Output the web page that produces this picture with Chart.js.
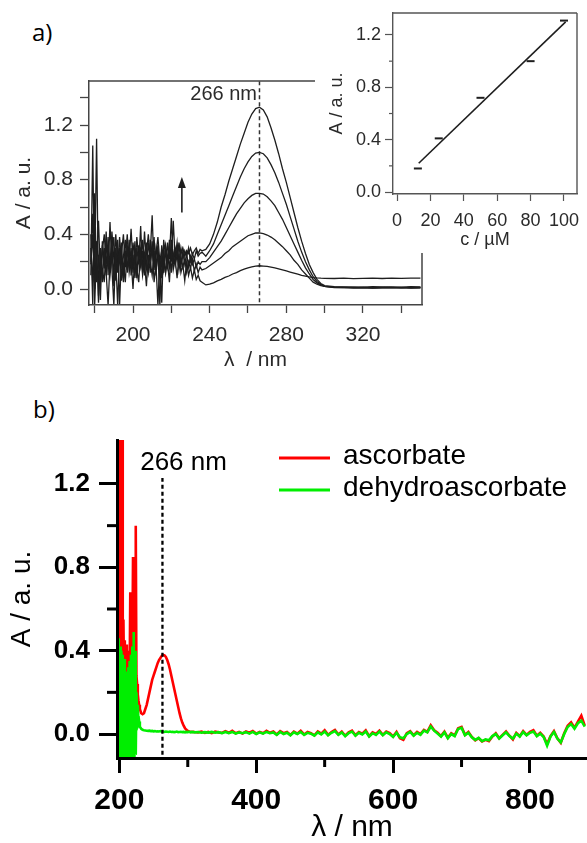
<!DOCTYPE html>
<html><head><meta charset="utf-8">
<script src="https://cdn.jsdelivr.net/npm/chart.js@4.4.1/dist/chart.umd.min.js"></script>
<style>
html,body{margin:0;padding:0;background:#fff;}
body{width:587px;height:843px;position:relative;overflow:hidden;}
canvas{position:absolute;}
#cA{left:0;top:40px;}
#cI{left:315px;top:0;}
#cB{left:0;top:420px;}
.plab{position:absolute;font-family:'Open Sans',sans-serif;font-size:24px;line-height:24px;color:#000;}
</style></head><body>
<div class="plab" style="left:32px;top:20px;">a)</div>
<div class="plab" style="left:33px;top:397px;">b)</div>
<canvas id="cA" width="440" height="340"></canvas>
<canvas id="cI" width="272" height="253"></canvas>
<canvas id="cB" width="587" height="423"></canvas>
<script>
// ================= DATA =================
// Panel a: spectra at five concentrations
const wavelengthA = [178,179,180,181,182,183,184,185,186,187,188,189,190,191,192,193,194,195,196,197,198,199,200,201,202,203,204,205,206,207,208,209,210,211,212,213,214,215,216,217,218,219,220,221,222,223,224,225,226,227,228,229,230,231,232,233,234,235,236,
 238,240,242,244,246,248,250,252,254,256,258,260,262,264,266,268,270,272,274,276,278,280,282,284,286,288,290,292,294,296,298,300,
 305,310,315,320,325,330,335,340,345,350];
const absA_12 = [0.10,1.05,-0.12,0.30,-0.10,0.25,0.05,0.30,0.12,-0.12,0.20,0.35,0.02,0.22,-0.12,0.28,0.10,0.18,0.05,0.32,0.12,0.22,0.00,0.26,0.15,0.05,0.30,0.10,0.20,0.02,0.25,0.12,0.35,0.05,0.18,-0.12,0.22,0.08,0.28,0.12,0.20,0.05,0.30,0.14,0.22,0.08,0.26,0.12,0.18,0.06,0.20,0.10,0.16,0.08,0.14,0.07,0.10,0.06,0.05,
 0.03,0.035,0.045,0.06,0.07,0.085,0.095,0.11,0.12,0.135,0.145,0.155,0.162,0.168,0.17,0.168,0.165,0.16,0.155,0.148,0.14,0.132,0.124,0.116,0.108,0.10,0.094,0.088,0.084,0.081,0.079,0.078,
 0.077,0.079,0.076,0.078,0.080,0.077,0.079,0.078,0.080,0.079];
const absA_25 = [0.40,-0.12,0.70,0.05,0.25,-0.08,0.35,0.15,0.42,0.10,0.49,0.15,-0.12,0.30,0.12,0.38,0.20,0.05,0.28,0.14,0.36,0.10,0.25,0.08,0.30,0.18,0.46,0.12,0.26,0.15,0.34,0.20,0.10,0.28,0.16,0.32,-0.12,0.24,0.14,0.30,0.18,0.36,0.12,0.26,0.18,0.30,0.14,0.24,0.16,0.22,0.12,0.20,0.15,0.22,0.13,0.18,0.12,0.16,0.14,
 0.15,0.17,0.19,0.21,0.23,0.26,0.28,0.31,0.33,0.35,0.37,0.39,0.40,0.41,0.41,0.405,0.395,0.38,0.36,0.335,0.31,0.28,0.25,0.21,0.18,0.14,0.11,0.08,0.05,0.035,0.025,0.02,
 0.015,0.012,0.010,0.012,0.009,0.011,0.010,0.012,0.009,0.011];
const absA_50 = [0.20,0.55,0.10,1.10,-0.05,0.30,0.15,0.05,0.32,0.22,0.10,0.26,0.38,0.06,0.30,0.20,0.34,0.08,0.22,0.40,0.16,0.30,0.12,0.35,0.08,0.24,0.16,0.28,0.10,0.34,0.18,0.26,0.54,0.14,0.30,0.20,0.10,0.32,0.20,0.12,0.34,0.22,0.52,0.18,0.28,0.20,0.34,0.16,0.28,0.18,0.26,0.16,0.24,0.18,0.22,0.16,0.20,0.18,0.20,
 0.20,0.23,0.27,0.31,0.35,0.40,0.45,0.50,0.55,0.59,0.63,0.66,0.685,0.70,0.70,0.695,0.675,0.645,0.61,0.56,0.51,0.45,0.39,0.33,0.27,0.21,0.155,0.11,0.07,0.045,0.03,0.02,
 0.012,0.010,0.008,0.010,0.007,0.009,0.008,0.010,0.007,0.009];
const absA_80 = [0.30,0.05,0.45,0.20,0.50,0.10,0.28,0.40,0.18,0.30,0.12,0.42,0.22,0.14,0.36,-0.12,0.26,0.40,0.16,0.30,0.20,0.44,0.18,0.12,0.38,0.22,0.30,0.14,0.42,0.20,0.12,0.36,0.24,0.38,0.10,0.28,0.18,-0.10,0.36,0.24,0.16,0.30,0.20,0.50,0.22,0.34,0.18,0.30,0.22,0.28,0.24,0.30,0.20,0.26,0.22,0.28,0.24,0.26,0.27,
 0.24,0.28,0.33,0.40,0.47,0.54,0.61,0.68,0.75,0.82,0.88,0.93,0.97,0.995,1.00,0.99,0.96,0.91,0.85,0.78,0.70,0.62,0.53,0.44,0.35,0.27,0.20,0.14,0.09,0.055,0.035,0.02,
 0.010,0.012,0.009,0.011,0.008,0.010,0.012,0.009,0.011,0.010];
const absA_100 = [0.18,0.40,0.00,0.35,0.20,0.05,0.32,0.22,0.10,0.38,0.16,0.28,0.10,0.40,0.20,0.30,0.06,0.24,0.36,0.12,0.28,0.18,0.34,0.20,0.10,0.32,0.20,0.36,0.14,0.26,0.40,0.22,0.30,0.18,0.26,0.38,0.20,0.28,0.12,0.32,0.24,0.16,0.36,0.22,0.30,0.24,0.32,0.26,0.30,0.24,0.28,0.26,0.30,0.25,0.28,0.30,0.26,0.29,0.28,
 0.29,0.33,0.40,0.49,0.60,0.69,0.79,0.88,0.97,1.06,1.14,1.22,1.28,1.32,1.33,1.31,1.26,1.18,1.09,0.99,0.88,0.78,0.67,0.56,0.45,0.35,0.26,0.18,0.12,0.07,0.04,0.025,
 0.018,0.015,0.016,0.014,0.017,0.015,0.016,0.014,0.017,0.015];
const seriesLabelsA = ['12.5 µM','25 µM','50 µM','80 µM','100 µM'];
const xTicksA = [180,200,220,240,260,280,300,320,340];
const xLabelledA = [200,240,280,320];
const yTicksA = [0,0.2,0.4,0.6,0.8,1.0,1.2,1.4];
const yLabelledA = [0,0.4,0.8,1.2];
const peakLineA_x = [266,266];
const peakLineA_y = [-0.2,1.6];
const peakTextA = '266 nm';
const arrowA = {x:225.5, from:0.56, to:0.82};

// Inset: calibration
const concInset = [12.5,25,50,80,100];
const absInset = [0.18,0.41,0.72,1.00,1.31];
const fitConcInset = [13,101];
const fitAbsInset = [0.22,1.30];
const xTicksInset = [0,20,40,60,80,100];
const yTicksInset = [0,0.4,0.8,1.2];
const yMinorInset = [0.2,0.6,1.0];

// Panel b: ascorbate vs dehydroascorbate
const wavelengthB = [197,198,199,200,201,202,203,204,205,206,207,208,209,210,211,212,213,214,215,216,217,218,219,220,221,222,223,224,225,226,227,228,229,230,231,232,
 234,236,238,240,242,244,246,248,250,252,254,256,258,260,262,264,266,268,270,272,274,276,278,280,282,284,286,288,290,292,294,296,298,300,302,304,306,308,
 310,315,320,325,330,335,340,345,350,355,360,365,370,375,380,385,390,395,400,405,410,415,420,425,430,435,440,445,450,455,
 460,465,470,475,480,485,490,495,500,505,510,515,520,525,530,535,540,545,550,555,560,565,570,575,580,585,590,595,600,605,
 610,615,620,625,630,635,640,645,650,655,660,665,670,675,680,685,690,695,700,705,710,715,720,725,730,735,740,745,750,755,
 760,765,770,775,780,785,790,795,800,805,810,815,820,825,830,835,840,845,850,855,860,865,870,875,880];
const ascorbate = [0.10,1.50,0.20,1.50,0.35,1.50,0.45,1.45,0.30,0.55,0.20,0.45,0.15,0.43,0.10,0.35,0.20,0.40,0.25,0.68,0.30,0.45,0.35,0.85,0.40,0.60,0.45,1.00,0.28,0.24,0.19,0.16,0.14,0.12,0.11,0.10,
 0.095,0.10,0.12,0.14,0.17,0.20,0.23,0.26,0.28,0.30,0.32,0.34,0.355,0.365,0.375,0.38,0.378,0.37,0.355,0.335,0.31,0.28,0.25,0.22,0.19,0.16,0.13,0.10,0.075,0.055,0.04,0.028,0.02,0.015,0.012,0.011,0.010,0.011,
 0.010,0.008,0.012,0.006,0.010,0.004,0.012,0.008,0.005,0.014,
 0.006,0.016,0.004,0.010,0.002,0.012,0.006,0.014,0.002,0.010,
 0.004,0.016,0.006,0.012,-0.002,0.014,0.004,0.010,-0.004,0.012,
 0.002,0.016,-0.002,0.010,0.004,-0.006,0.012,0.002,0.018,-0.004,
 0.010,0.020,-0.002,0.012,-0.008,0.008,0.016,-0.006,0.010,0.002,
 0.018,-0.010,0.008,0.000,0.016,-0.004,0.012,0.004,-0.012,0.010,
 -0.020,-0.028,0.004,0.014,-0.006,0.010,0.000,0.020,0.010,0.042,
 0.018,0.006,-0.010,0.012,-0.018,0.004,-0.006,0.028,0.034,-0.004,
 0.010,-0.014,-0.030,-0.020,-0.036,-0.028,-0.034,-0.012,0.004,-0.020,
 -0.004,0.012,-0.008,-0.026,0.006,-0.010,0.014,-0.004,0.010,0.018,
 -0.008,0.006,-0.012,-0.048,-0.010,0.014,-0.020,-0.042,0.004,0.040,
 0.056,0.030,0.060,0.088,0.040];
const dehydroascorbate = [0.45,-0.15,0.46,-0.15,0.42,-0.15,0.40,-0.15,0.38,-0.15,0.36,-0.15,0.29,-0.15,0.30,-0.15,0.32,-0.15,0.35,-0.15,0.38,-0.15,0.42,-0.15,0.49,-0.15,0.40,-0.10,0.20,0.08,0.14,0.05,0.06,0.035,0.03,0.025,
 0.02,0.018,0.017,0.016,0.015,0.016,0.014,0.015,0.013,0.014,0.012,0.013,0.012,0.014,0.011,0.012,0.010,0.012,0.011,0.010,0.012,0.010,0.011,0.009,0.010,0.012,0.009,0.010,0.011,0.009,0.010,0.008,0.010,0.009,0.011,0.008,0.010,0.009,
 0.008,0.010,0.006,0.009,0.007,0.010,0.006,0.009,0.004,0.010,
 0.004,0.010,0.002,0.008,0.004,0.009,0.002,0.010,0.000,0.008,
 0.002,0.010,0.004,0.008,-0.004,0.010,0.000,0.006,-0.006,0.008,
 0.000,0.010,-0.004,0.006,0.002,-0.008,0.008,-0.002,0.012,-0.006,
 0.006,0.014,-0.004,0.008,-0.010,0.004,0.012,-0.008,0.006,-0.002,
 0.012,-0.012,0.004,-0.004,0.012,-0.006,0.008,0.000,-0.014,0.006,
 -0.016,-0.020,0.000,0.010,-0.008,0.006,-0.004,0.016,0.008,0.036,
 0.016,0.002,-0.012,0.008,-0.020,0.000,-0.010,0.024,0.030,-0.006,
 0.006,-0.016,-0.028,-0.018,-0.034,-0.026,-0.030,-0.010,0.000,-0.022,
 -0.006,0.008,-0.010,-0.022,0.002,-0.012,0.010,-0.006,0.006,0.012,
 -0.010,0.002,-0.014,-0.056,-0.012,0.010,-0.022,-0.040,0.000,0.034,
 0.048,0.026,0.052,0.064,0.036];
const xTicksB = [200,400,600,800];
const xMinorB = [300,500,700];
const yTicksB = [0,0.4,0.8,1.2];
const yMinorB = [0.2,0.6,1.0];
const peakLineB_x = [263,263];
const peakLineB_y = [-0.2,1.229];
const peakTextB = '266 nm';

// ================= HELPERS =================
const pts = (xs, ys) => xs.map((x, i) => ({x: x, y: ys[i]}));
const fixedTicks = vals => scale => { scale.ticks = vals.map(v => ({value: v})); };
const fitBox = (size, isX) => scale => {
  if (isX) scale.height = size; else scale.width = size;
  scale.paddingTop = 0; scale.paddingBottom = 0; scale.paddingLeft = 0; scale.paddingRight = 0;
};
Chart.defaults.font.family = "'Liberation Sans', Arial, sans-serif";

const framePlugin = {
  id: 'frame',
  afterDatasetsDraw(chart, args, o) {
    if (!o || !o.sides) return;
    const {left, right, top, bottom} = chart.chartArea;
    const ctx = chart.ctx;
    ctx.save(); ctx.strokeStyle = o.color; ctx.lineWidth = o.width; ctx.beginPath();
    if (o.sides.includes('top')) { ctx.moveTo(left, top); ctx.lineTo(right, top); }
    if (o.sides.includes('right')) { ctx.moveTo(right, top); ctx.lineTo(right, bottom); }
    if (o.sides.includes('bottom')) { ctx.moveTo(left, bottom); ctx.lineTo(right, bottom); }
    if (o.sides.includes('left')) { ctx.moveTo(left, top); ctx.lineTo(left, bottom); }
    ctx.stroke(); ctx.restore();
  }
};
const whiteBg = {
  id: 'whiteBg',
  beforeDraw(chart) { const c = chart.ctx; c.save(); c.fillStyle = '#fff'; c.fillRect(0, 0, chart.width, chart.height); c.restore(); }
};
const minorTicks = {
  id: 'minorTicks',
  afterDraw(chart, args, o) {
    if (!o || !o.list) return;
    const ctx = chart.ctx;
    o.list.forEach(m => {
      const sc = chart.scales[m.axis];
      ctx.save(); ctx.strokeStyle = m.color; ctx.lineWidth = m.width;
      m.values.forEach(v => {
        const p = sc.getPixelForValue(v);
        ctx.beginPath();
        if (sc.isHorizontal()) { ctx.moveTo(p, sc.top); ctx.lineTo(p, sc.top + m.length); }
        else { ctx.moveTo(sc.right, p); ctx.lineTo(sc.right - m.length, p); }
        ctx.stroke();
      });
      ctx.restore();
    });
  }
};
const notes = {
  id: 'notes',
  afterDatasetsDraw(chart, args, o) {
    if (!o) return;
    const ctx = chart.ctx, xs = chart.scales.x, ys = chart.scales.y;
    (o.texts || []).forEach(t => {
      ctx.save(); ctx.font = t.font; ctx.fillStyle = t.color; ctx.textAlign = t.align || 'center'; ctx.textBaseline = 'middle';
      ctx.fillText(t.text, xs.getPixelForValue(t.x), ys.getPixelForValue(t.y)); ctx.restore();
    });
    (o.arrows || []).forEach(a => {
      const px = xs.getPixelForValue(a.x), p0 = ys.getPixelForValue(a.from), p1 = ys.getPixelForValue(a.to);
      ctx.save(); ctx.strokeStyle = a.color; ctx.fillStyle = a.color; ctx.lineWidth = a.width;
      ctx.beginPath(); ctx.moveTo(px, p0); ctx.lineTo(px, p1 + a.head); ctx.stroke();
      ctx.beginPath(); ctx.moveTo(px, p1); ctx.lineTo(px - a.half, p1 + a.head + 1); ctx.lineTo(px + a.half, p1 + a.head + 1); ctx.closePath(); ctx.fill();
      ctx.restore();
    });
  }
};
const lineLegend = {
  id: 'lineLegend',
  afterDraw(chart, args, o) {
    if (!o || o.left === undefined) return;
    const ctx = chart.ctx, ca = chart.chartArea;
    chart.data.datasets.filter(d => d.inLegend).forEach((d, i) => {
      const y = ca.top + o.top + i * o.rowGap, x0 = ca.left + o.left;
      ctx.save(); ctx.strokeStyle = d.borderColor; ctx.lineWidth = o.lineWidth;
      ctx.beginPath(); ctx.moveTo(x0, y); ctx.lineTo(x0 + o.lineLen, y); ctx.stroke();
      ctx.font = o.font; ctx.fillStyle = o.color; ctx.textAlign = 'left'; ctx.textBaseline = 'middle';
      ctx.fillText(d.label, x0 + o.lineLen + o.gap, y + o.textDy);
      ctx.restore();
    });
  }
};

// ================= PANEL A =================
const curvesA = [absA_12, absA_25, absA_50, absA_80, absA_100];
const inkA = '#1e1e1e';
new Chart(document.getElementById('cA'), {
  type: 'line',
  data: {
    datasets: curvesA.map((vals, i) => ({
      label: seriesLabelsA[i], data: pts(wavelengthA, vals),
      borderColor: inkA, borderWidth: 1.3, pointRadius: 0, tension: 0, fill: false
    })).concat([{
      label: 'peak', data: pts(peakLineA_x, peakLineA_y), borderColor: '#333', borderWidth: 1.5,
      borderDash: [4, 3], pointRadius: 0, fill: false
    }])
  },
  options: {
    responsive: false, animation: false, devicePixelRatio: 1,
    layout: {padding: {top: 41, right: 18, left: 0, bottom: 0}},
    plugins: {
      legend: {display: false}, tooltip: {enabled: false},
      frame: {sides: ['top', 'right'], color: '#444', width: 1.5},
      notes: {
        texts: [{x: 264.7, y: 1.42, text: peakTextA, font: "20px 'Liberation Sans'", color: '#2a2a2a', align: 'right'}],
        arrows: [{x: arrowA.x, from: arrowA.from, to: arrowA.to, color: '#1e1e1e', width: 1.6, head: 10, half: 4}]
      }
    },
    scales: {
      x: {
        type: 'linear', min: 177.04, max: 350.8,
        afterBuildTicks: fixedTicks(xTicksA), afterFit: fitBox(75, true),
        ticks: {autoSkip: false, maxRotation: 0, padding: 10, color: '#2a2a2a', font: {size: 21},
          callback: v => xLabelledA.includes(v) ? String(v) : ''},
        grid: {drawOnChartArea: false, tickLength: 8, tickWidth: 1.3, tickColor: '#444'},
        border: {display: true, color: '#444', width: 1.5, z: 1},
        title: {display: true, text: 'λ  / nm', color: '#2a2a2a', font: {size: 21}, padding: {top: 0, bottom: 7}}
      },
      y: {
        type: 'linear', min: -0.117, max: 1.522,
        afterBuildTicks: fixedTicks(yTicksA), afterFit: fitBox(89, false),
        ticks: {autoSkip: false, padding: 7, color: '#2a2a2a', font: {size: 21},
          callback: v => yLabelledA.includes(v) ? v.toFixed(1) : ''},
        grid: {drawOnChartArea: false, tickLength: 9, tickWidth: 1.3, tickColor: '#444'},
        border: {display: true, color: '#444', width: 1.5, z: 1},
        title: {display: true, text: 'A / a. u.', color: '#2a2a2a', font: {size: 21}, padding: {top: 12, bottom: 0}}
      }
    }
  },
  plugins: [framePlugin, notes]
});

// ================= INSET =================
new Chart(document.getElementById('cI'), {
  type: 'line',
  data: {
    datasets: [
      {label: 'fit', data: pts(fitConcInset, fitAbsInset), borderColor: '#1e1e1e', borderWidth: 1.6, pointRadius: 0, fill: false},
      {label: 'A(266 nm)', data: pts(concInset, absInset), showLine: false, pointStyle: 'line', pointRadius: 4,
        borderColor: '#1e1e1e', pointBorderWidth: 2, borderWidth: 2, pointHoverRadius: 4}
    ]
  },
  options: {
    responsive: false, animation: false, devicePixelRatio: 1,
    layout: {padding: {top: 13, right: 10, left: 0, bottom: 0}},
    plugins: {
      legend: {display: false}, tooltip: {enabled: false},
      frame: {sides: ['top', 'right'], color: '#555', width: 1.4},
      minorTicks: {list: [{axis: 'y', values: yMinorInset, length: 4, width: 1.2, color: '#555'}]}
    },
    scales: {
      x: {
        type: 'linear', min: -2.4, max: 107.8,
        afterBuildTicks: fixedTicks(xTicksInset), afterFit: fitBox(59, true),
        ticks: {autoSkip: false, maxRotation: 0, padding: 9, color: '#2a2a2a', font: {size: 18}},
        grid: {drawOnChartArea: false, tickLength: 7, tickWidth: 1.2, tickColor: '#555'},
        border: {display: true, color: '#555', width: 1.4, z: 1},
        title: {display: true, text: 'c / µM', color: '#2a2a2a', font: {size: 18}, padding: {top: 0, bottom: 2}}
      },
      y: {
        type: 'linear', min: -0.015, max: 1.368,
        afterBuildTicks: fixedTicks(yTicksInset), afterFit: fitBox(78, false),
        ticks: {autoSkip: false, padding: 4, color: '#2a2a2a', font: {size: 18}, callback: v => v.toFixed(1)},
        grid: {drawOnChartArea: false, tickLength: 8, tickWidth: 1.2, tickColor: '#555'},
        border: {display: true, color: '#555', width: 1.4, z: 1},
        title: {display: true, text: 'A / a. u.', color: '#2a2a2a', font: {size: 18}, padding: {top: 11, bottom: 0}}
      }
    }
  },
  plugins: [whiteBg, framePlugin, minorTicks]
});

// ================= PANEL B =================
new Chart(document.getElementById('cB'), {
  type: 'line',
  data: {
    datasets: [
      {label: 'ascorbate', inLegend: true, order: 3, data: pts(wavelengthB, ascorbate), borderColor: '#ff0000', borderWidth: 2.6, pointRadius: 0, tension: 0, fill: false},
      {label: 'dehydroascorbate', inLegend: true, order: 2, data: pts(wavelengthB, dehydroascorbate), borderColor: '#00ee00', borderWidth: 2.6, pointRadius: 0, tension: 0, fill: false},
      {label: '266 nm marker', order: 1, data: pts(peakLineB_x, peakLineB_y), borderColor: '#000', borderWidth: 2.3, borderDash: [4, 3], pointRadius: 0, fill: false}
    ]
  },
  options: {
    responsive: false, animation: false, devicePixelRatio: 1,
    layout: {padding: {top: 20, right: 0, left: 0, bottom: 0}},
    plugins: {
      legend: {display: false}, tooltip: {enabled: false},
      minorTicks: {list: [
        {axis: 'y', values: yMinorB, length: 10, width: 3, color: '#000'},
        {axis: 'x', values: xMinorB, length: 9, width: 3, color: '#000'}
      ]},
      notes: {texts: [{x: 293.8, y: 1.30, text: peakTextB, font: "26px 'Liberation Sans'", color: '#000', align: 'center'}]},
      lineLegend: {left: 162, top: 18, rowGap: 32, lineLen: 51, gap: 13, lineWidth: 3, textDy: -2,
        font: "28px 'Liberation Sans'", color: '#000'}
    },
    scales: {
      x: {
        type: 'linear', min: 196.6, max: 883.3,
        afterBuildTicks: fixedTicks(xTicksB), afterFit: fitBox(85, true),
        ticks: {autoSkip: false, maxRotation: 0, padding: 10, color: '#000', font: {size: 30, weight: 'bold'}},
        grid: {drawOnChartArea: false, tickLength: 15, tickWidth: 3, tickColor: '#000'},
        border: {display: true, color: '#000', width: 3, z: 1},
        title: {display: true, text: 'λ / nm', color: '#000', font: {size: 30, lineHeight: 1}, padding: {top: 0, bottom: 0}}
      },
      y: {
        type: 'linear', min: -0.115, max: 1.411,
        afterBuildTicks: fixedTicks(yTicksB), afterFit: fitBox(117, false),
        ticks: {autoSkip: false, padding: 9, color: '#000', font: {size: 26, weight: 'bold'}, callback: v => v.toFixed(1)},
        grid: {drawOnChartArea: false, tickLength: 18, tickWidth: 3, tickColor: '#000'},
        border: {display: true, color: '#000', width: 3, z: 1},
        title: {display: true, text: 'A / a. u.', color: '#000', font: {size: 28, lineHeight: 1}, padding: {top: 8, bottom: 0}}
      }
    }
  },
  plugins: [minorTicks, notes, lineLegend]
});
</script>
</body></html>
